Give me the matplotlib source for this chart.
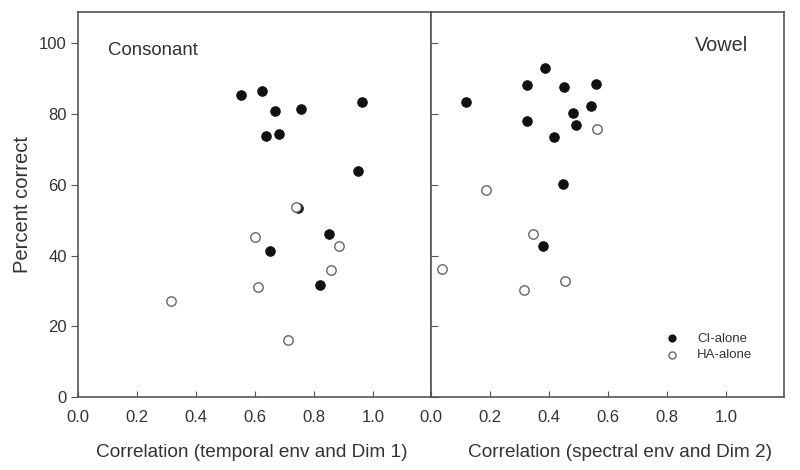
import matplotlib
matplotlib.use("Agg")
import matplotlib.pyplot as plt

plt.rcParams['font.family'] = ['Liberation Sans', 'DejaVu Sans']

# Consonant panel (temporal env and Dim 1)
cons_ci_x = [0.553, 0.624, 0.667, 0.757, 0.962, 0.639, 0.680, 0.951, 0.746, 0.852, 0.651, 0.821]
cons_ci_y = [85.3, 86.6, 80.8, 81.4, 83.5, 73.9, 74.4, 63.8, 53.3, 46.0, 41.2, 31.6]
cons_ha_x = [0.738, 0.599, 0.884, 0.857, 0.610, 0.316, 0.711]
cons_ha_y = [53.6, 45.1, 42.7, 35.8, 31.2, 27.2, 16.2]

# Vowel panel (spectral env and Dim 2)
vow_ci_x = [0.388, 0.324, 0.451, 0.559, 0.119, 0.544, 0.480, 0.325, 0.490, 0.418, 0.447, 0.381]
vow_ci_y = [93.1, 88.2, 87.7, 88.4, 83.4, 82.3, 80.3, 78.1, 76.8, 73.5, 60.1, 42.7]
vow_ha_x = [0.563, 0.185, 0.346, 0.036, 0.456, 0.316]
vow_ha_y = [75.8, 58.6, 46.2, 36.2, 32.8, 30.3]

xticks = [0.0, 0.2, 0.4, 0.6, 0.8, 1.0]
yticks = [0, 20, 40, 60, 80, 100]
xlabels = ["Correlation (temporal env and Dim 1)", "Correlation (spectral env and Dim 2)"]
titles = ["Consonant", "Vowel"]

txt = '#333333'
spine_c = '#555555'

fig = plt.figure(figsize=(8, 4.7), dpi=100)
L, B, T = 0.0975, 0.155, 0.9745
W = (0.98 - L) / 2
ax1 = fig.add_axes([L, B, W, T - B])
ax2 = fig.add_axes([L + W, B, W, T - B])

ms = 46
for ax, cx, cy, hx, hy in [(ax1, cons_ci_x, cons_ci_y, cons_ha_x, cons_ha_y),
                           (ax2, vow_ci_x, vow_ci_y, vow_ha_x, vow_ha_y)]:
    ax.scatter(cx, cy, s=ms, c='#111111', edgecolors='#111111', linewidths=0.8,
               label='CI-alone', zorder=3)
    ax.scatter(hx, hy, s=ms, facecolors='white', edgecolors='#666666', linewidths=1.0,
               label='HA-alone', zorder=4)
    ax.set_xlim(0, 1.197)
    ax.set_ylim(0, 108.8)
    ax.set_xticks(xticks)
    ax.set_xticklabels([f"{v:.1f}" for v in xticks])
    ax.set_yticks(yticks)
    for s in ax.spines.values():
        s.set_color(spine_c)
        s.set_linewidth(1.2)
    ax.tick_params(axis='x', direction='in', length=4, color=spine_c, labelsize=12,
                   labelcolor=txt, pad=9)

ax1.tick_params(axis='y', direction='out', length=5, color=spine_c, labelsize=12,
                labelcolor=txt, pad=3)
ax2.tick_params(axis='y', direction='in', length=5, color=spine_c, labelleft=False)

ax1.set_ylabel("Percent correct", fontsize=14.5, color=txt)
ax1.yaxis.set_label_coords(-0.158, 0.5)
ax1.yaxis.label.set_va('center')

ax1.set_xlabel(xlabels[0], fontsize=13.7, color=txt)
ax2.set_xlabel(xlabels[1], fontsize=13.7, color=txt)
for ax, xc in [(ax1, 0.493), (ax2, 0.535)]:
    ax.xaxis.label.set_va('center')
    ax.xaxis.set_label_coords(xc, -0.143)

ax1.text(0.085, 0.901, titles[0], transform=ax1.transAxes, fontsize=13.4, color=txt,
         ha='left', va='center')
ax2.text(0.898, 0.912, titles[1], transform=ax2.transAxes, fontsize=14.3, color=txt,
         ha='right', va='center')

leg = ax2.legend(loc='lower left', bbox_to_anchor=(0.63, 0.08), frameon=False,
                 fontsize=9.5, labelspacing=0.3, handletextpad=0.9, markerscale=0.75,
                 borderaxespad=0)
for t in leg.get_texts():
    t.set_color(txt)

fig.savefig("out.png", dpi=100)
